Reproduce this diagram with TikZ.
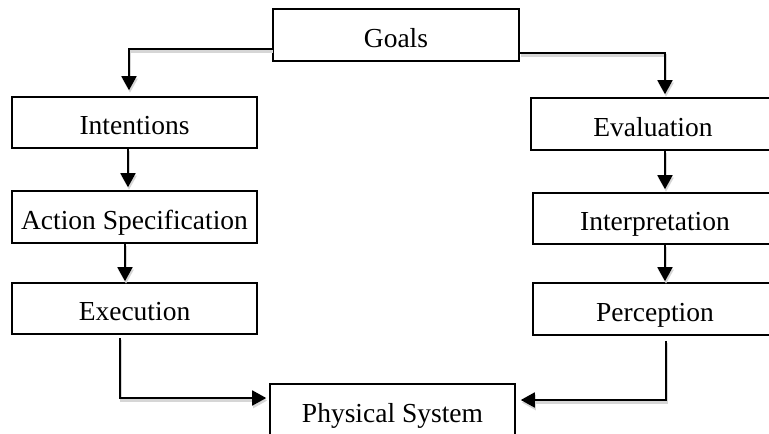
\documentclass[tikz,border=0pt]{standalone}
\usepackage{fontspec}
\setmainfont{Liberation Serif}
\usetikzlibrary{arrows.meta}

\tikzset{
  box/.style={draw=black, line width=1.6pt, fill=white, inner sep=0pt,
    minimum height=51pt, text height=24pt, text depth=0pt,
    font=\fontsize{27.5}{30}\selectfont},
  conn/.style={line width=1.8pt,
    -{Triangle[length=14pt,width=15pt]},
    preaction={draw=black!16, line width=2.4pt,
      transform canvas={shift={(1pt,-2.5pt)}}}}
}

\begin{document}
\begin{tikzpicture}[x=1pt, y=-1pt]
  \clip (0,0) rectangle (769,434);
  \fill[white] (0,0) rectangle (769,434);

  % stages of execution (left) and evaluation (right)
  \node[box, minimum width=246pt, minimum height=52pt] (goals) at (396,35) {Goals};

  \node[box, minimum width=245pt] (intent) at (134.5,122.5) {Intentions};
  \node[box, minimum width=245pt, minimum height=52pt] (action) at (134.5,217) {Action Specification};
  \node[box, minimum width=245pt] (exec) at (134.5,308.5) {Execution};

  \node[box, minimum width=244pt, minimum height=52pt] (eval) at (653,124) {Evaluation};
  \node[box, minimum width=244pt] (interp) at (655,218.5) {Interpretation};
  \node[box, minimum width=244pt, minimum height=52pt] (percep) at (655,309) {Perception};

  \node[box, minimum width=245pt, minimum height=52pt] (phys) at (392.5,410) {Physical System};

  % connectors
  \draw[conn, shorten >=6pt] ([yshift=-14pt]goals.west) -| ([xshift=-5.5pt]intent.north);
  \draw[conn, shorten >=3pt] ([yshift=-18pt]goals.east) -| ([xshift=12pt]eval.north);

  \draw[conn, shorten >=3pt] ([xshift=-6.5pt]intent.south) -- ([xshift=-6.5pt]action.north);
  \draw[conn, shorten >=1pt] ([xshift=-9.5pt]action.south) -- ([xshift=-9.5pt]exec.north);

  \draw[conn, shorten >=3pt] ([xshift=12pt]eval.south) -- ([xshift=10pt]interp.north);
  \draw[conn, shorten >=1pt] ([xshift=10pt]interp.south) -- ([xshift=10pt]percep.north);

  \draw[conn, shorten <=3pt, shorten >=3pt] ([xshift=-14.5pt]exec.south) |- ([yshift=12pt]phys.west);
  \draw[conn, shorten <=5pt, shorten >=5pt] ([xshift=11pt]percep.south) |- ([yshift=10pt]phys.east);
\end{tikzpicture}
\end{document}
